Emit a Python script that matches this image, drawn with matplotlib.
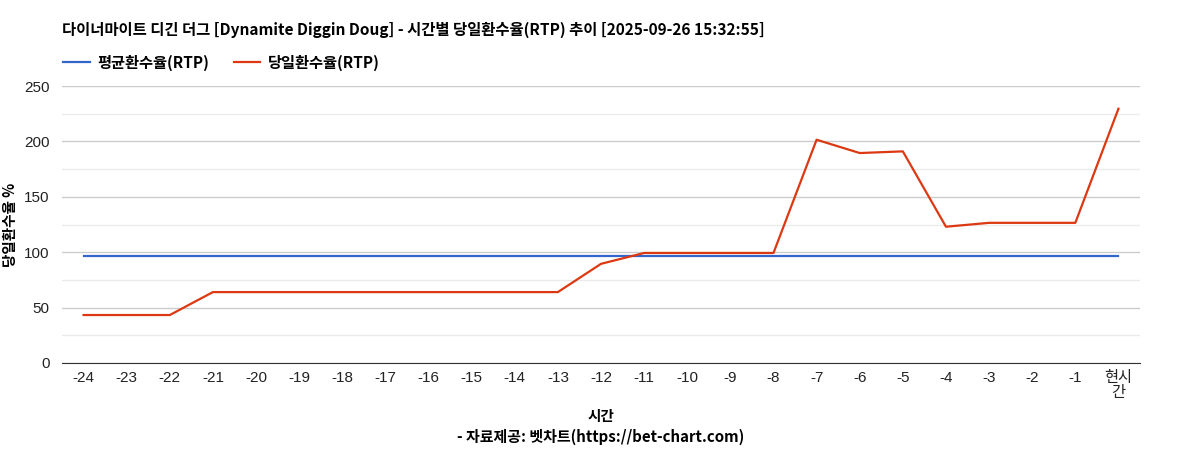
import matplotlib.pyplot as plt
from matplotlib.ticker import MultipleLocator

plt.rcParams['font.family'] = ['Noto Sans CJK KR', 'DejaVu Sans']

hours = ['-24', '-23', '-22', '-21', '-20', '-19', '-18', '-17', '-16', '-15', '-14', '-13',
         '-12', '-11', '-10', '-9', '-8', '-7', '-6', '-5', '-4', '-3', '-2', '-1', '현시\n간']
avg_rtp = [96.6] * 25
day_rtp = [43.3, 43.3, 43.3, 64, 64, 64, 64, 64, 64, 64, 64, 64,
           89.5, 99.3, 99.3, 99.3, 99.3, 201.5, 189.5, 191, 123, 126.5, 126.5, 126.5, 229.5]

title = '다이너마이트 디긴 더그 [Dynamite Diggin Doug] - 시간별 당일환수율(RTP) 추이 [2025-09-26 15:32:55]'
tick_fonts = ['Liberation Sans', 'Noto Sans CJK KR']

fig = plt.figure(figsize=(12.01, 4.5), dpi=100)
ax = fig.add_axes([62 / 1201, 1 - 363 / 450, (1140 - 62) / 1201, (363 - 86) / 450])

x = list(range(len(hours)))
ax.plot(x, avg_rtp, color='#3366cc', lw=1.6, label='평균환수율(RTP)')
ax.plot(x, day_rtp, color='#dc3912', lw=1.6, label='당일환수율(RTP)')

ax.set_xlim(-0.5, len(hours) - 0.5)
ax.set_ylim(0, 250)
ax.set_xticks(x)
ax.set_xticklabels(hours, fontsize=11, color='#222222', linespacing=1.05, family=tick_fonts)
ax.yaxis.set_major_locator(MultipleLocator(50))
ax.yaxis.set_minor_locator(MultipleLocator(25))
ax.tick_params(axis='both', which='both', length=0, pad=6)
ax.tick_params(axis='y', labelsize=11, labelcolor='#222222', pad=9)
for lab in ax.get_yticklabels():
    lab.set_family(tick_fonts)
ax.grid(axis='y', which='major', color='#cccccc', lw=1)
ax.grid(axis='y', which='minor', color='#ebebeb', lw=1)
ax.set_axisbelow(True)
for s in ['top', 'right', 'left']:
    ax.spines[s].set_visible(False)
ax.spines['bottom'].set_color('#333333')

ax.set_ylabel('당일환수율 %', fontsize=10.5, fontweight='bold', labelpad=4)
ax.set_xlabel('시간', fontsize=10.5, fontweight='bold', labelpad=6)

fig.text(62 / 1201, 1 - 30 / 450, title, fontsize=11.1, fontweight='bold', va='center', ha='left')
fig.text(601 / 1201, 1 - 437 / 450, '- 자료제공: 벳차트(https://bet-chart.com)', fontsize=10.8,
         fontweight='bold', va='center', ha='center')

ax.legend(loc='upper left', bbox_to_anchor=(-0.012, 1 + 45 / 277), ncol=2, frameon=False,
          handlelength=1.75, columnspacing=1.6, handletextpad=0.5,
          prop={'weight': 'bold', 'size': 11})

fig.savefig('out.png', dpi=100)
